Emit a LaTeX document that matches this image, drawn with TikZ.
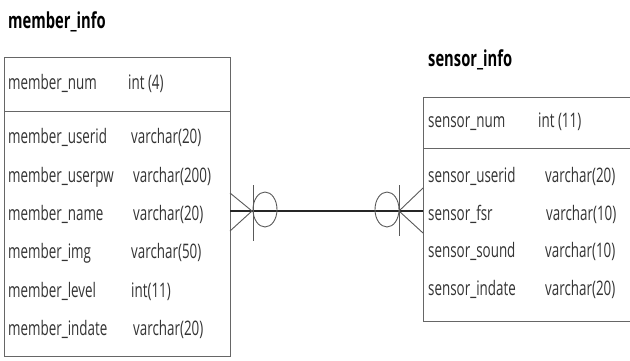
\documentclass[tikz,border=0pt]{standalone}
\usepackage{fontspec}
\setmainfont{Open Sans}[FakeStretch=0.67]
\begin{document}
\begin{tikzpicture}[x=1pt,y=-1pt,
  boxline/.style={draw=black!60,line width=0.9pt},
  rel/.style={draw=black!85,line width=1.3pt},
  crow/.style={draw=black!65,line width=0.9pt},
  fld/.style={anchor=base west,inner sep=0pt,text=black!80,font=\fontsize{20}{23}\selectfont},
  ttl/.style={anchor=base west,inner sep=0pt,text=black,font=\fontsize{22}{25}\selectfont\bfseries}]
\useasboundingbox (0,0) rectangle (630,360);
\begin{scope}
\clip (0,0) rectangle (630,360);
% titles
\node[ttl] (t1) at (8,28) {member\_info};
\node[ttl] (t2) at (428,66) {sensor\_info};
% boxes
\coordinate (m1) at (4,57); \coordinate (m2) at (230,356);
\coordinate (s1) at (423,97); \coordinate (s2) at (650,321);
\draw[boxline] (m1) rectangle (m2);
\draw[boxline] (4,111) -- (230,111);
\draw[boxline] (s1) rectangle (s2);
\draw[boxline] (423,148) -- (650,148);
% member fields
\node[fld] (mn) at (8,89) {member\_num};    \node[fld] (mnt) at (128,89) {int (4)};
\node[fld] (mu) at (8,143) {member\_userid}; \node[fld] (mut) at (131,143) {varchar(20)};
\node[fld] (mp) at (8,182) {member\_userpw}; \node[fld] (mpt) at (133,182) {varchar(200)};
\node[fld] (mna) at (8,220) {member\_name};  \node[fld] (mnat) at (133,220) {varchar(20)};
\node[fld] (mi) at (8,258) {member\_img};    \node[fld] (mit) at (131,258) {varchar(50)};
\node[fld] (ml) at (8,297) {member\_level};  \node[fld] (mlt) at (131,297) {int(11)};
\node[fld] (md) at (8,335) {member\_indate}; \node[fld] (mdt) at (133,335) {varchar(20)};
% sensor fields
\node[fld] (sn) at (428,127) {sensor\_num};   \node[fld] (snt) at (538,127) {int (11)};
\node[fld] (su) at (428,182) {sensor\_userid}; \node[fld] (sut) at (545,182) {varchar(20)};
\node[fld] (sf) at (428,220) {sensor\_fsr};    \node[fld] (sft) at (546,220) {varchar(10)};
\node[fld] (ss) at (428,257) {sensor\_sound};  \node[fld] (sst) at (545,257) {varchar(10)};
\node[fld] (si) at (428,295) {sensor\_indate}; \node[fld] (sit) at (545,295) {varchar(20)};
% relationship
\coordinate (ra) at (230,211);
\coordinate (rb) at (423,211);
\draw[rel] (ra) -- (rb);
% left end
\coordinate (lt) at (252,211);
\draw[crow] (230,193) -- (lt) -- (230,231);
\draw[crow] (253,185) -- (253,241);
\draw[crow] (265,209.5) ellipse [x radius=12, y radius=17.5];
% right end
\coordinate (rt) at (399,211);
\draw[crow] (423,188) -- (rt) -- (423,233);
\draw[crow] (399,185) -- (399,236);
\draw[crow] (387,209.5) ellipse [x radius=12, y radius=17.5];
\end{scope}
\end{tikzpicture}
\end{document}
